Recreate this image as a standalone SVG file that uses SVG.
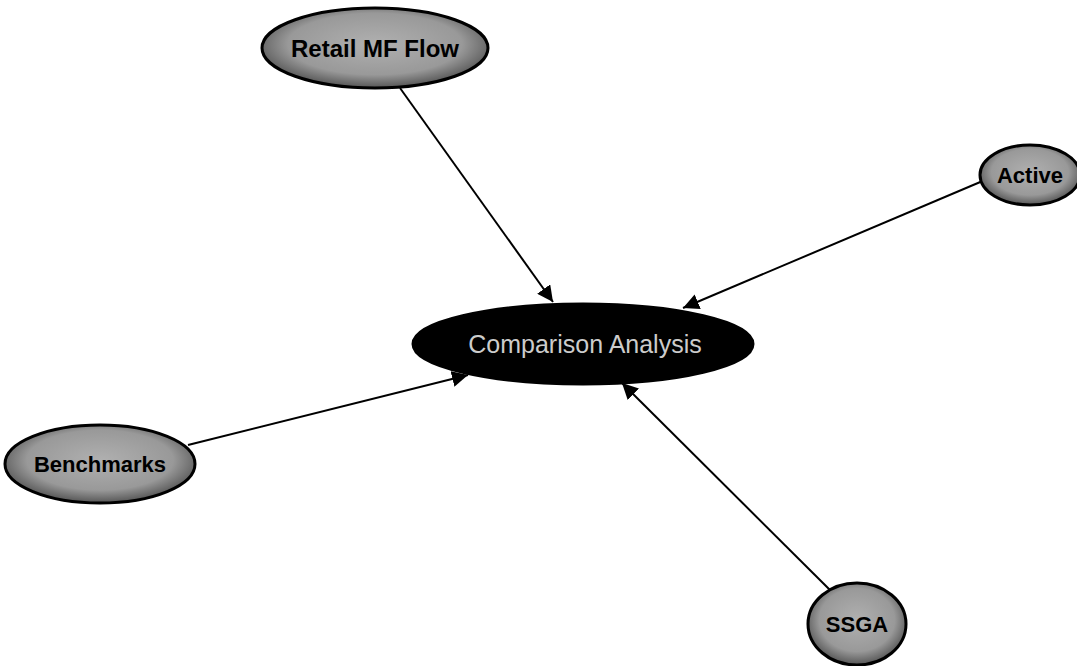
<svg xmlns="http://www.w3.org/2000/svg" width="1077" height="666" viewBox="0 0 1077 666">
<style>
.node{fill:url(#g);stroke:#000;stroke-width:3}
.lbl{font-family:"Liberation Sans",Arial,sans-serif;font-size:22px;font-weight:bold;fill:#000;text-anchor:middle;dominant-baseline:central}
.edge{stroke:#000;stroke-width:2;fill:none;marker-end:url(#ah)}
</style>
<defs>
<radialGradient id="g" cx="50%" cy="45%" r="55%">
<stop offset="0" stop-color="#b0b0b0"/>
<stop offset="0.7" stop-color="#999"/>
<stop offset="1" stop-color="#555"/>
</radialGradient>
<marker id="ah" viewBox="0 0 10 10" refX="10" refY="5" markerWidth="8" markerHeight="8" orient="auto" markerUnits="strokeWidth">
<path d="M0,0 L10,5 L0,10 z" fill="#000"/>
</marker>
</defs>
<rect width="1077" height="666" fill="#fff"/>
<g id="connectors">
<line class="edge" x1="400" y1="88" x2="553" y2="302"/>
<line class="edge" x1="985" y1="180" x2="683" y2="308"/>
<line class="edge" x1="188" y1="445" x2="468" y2="375"/>
<line class="edge" x1="830" y1="590" x2="622" y2="383"/>
</g>
<g id="node-center">
<ellipse cx="583" cy="344" rx="170" ry="40" fill="#000" stroke="#000" stroke-width="3"/>
<text class="lbl" x="585" y="344" style="fill:#ccc;font-weight:normal;font-size:25px">Comparison Analysis</text>
</g>
<g id="node-retail">
<ellipse class="node" cx="375" cy="48" rx="113" ry="40"/>
<text class="lbl" x="375" y="48" style="font-size:24px">Retail MF Flow</text>
</g>
<g id="node-active">
<ellipse class="node" cx="1030" cy="175" rx="50" ry="30"/>
<text class="lbl" x="1030" y="175">Active</text>
</g>
<g id="node-benchmarks">
<ellipse class="node" cx="100" cy="464" rx="95" ry="39"/>
<text class="lbl" x="100" y="464">Benchmarks</text>
</g>
<g id="node-ssga">
<ellipse class="node" cx="857" cy="624" rx="49" ry="41"/>
<text class="lbl" x="857" y="624">SSGA</text>
</g>
</svg>
